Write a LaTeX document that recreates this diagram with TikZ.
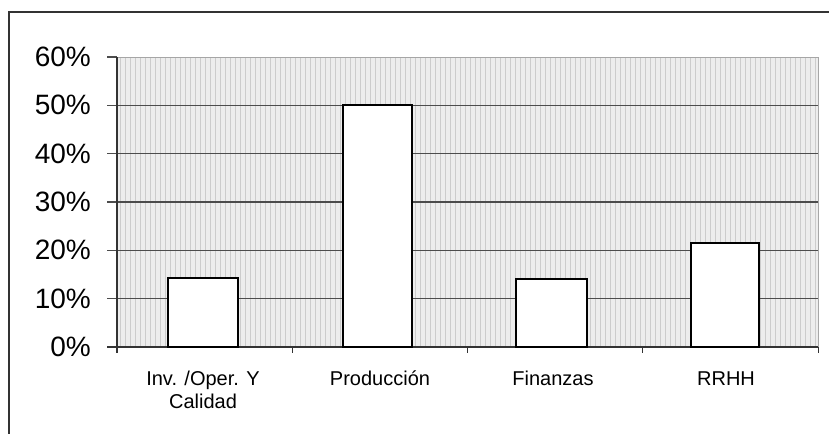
\documentclass[tikz,border=0pt]{standalone}
\usepackage{fontspec}
\setmainfont{Liberation Sans}
\usetikzlibrary{patterns.meta}
\begin{document}
\begin{tikzpicture}[x=1pt, y=-1pt,
    gridline/.style={draw=black!70, line width=1.2pt},
    barbox/.style={draw=black, fill=white, line width=2pt},
    ylab/.style={anchor=east, inner sep=0pt, font=\fontsize{28}{30}\selectfont},
    xlab/.style={anchor=base, inner sep=0pt, align=center, font=\fontsize{20}{23}\selectfont}]
            \useasboundingbox (0,0) rectangle (829,434);
            % frame
            \draw[black!80, line width=1.5pt] (829,12) -- (9,12) -- (9,434);
            % plot area
            \fill[black!7] (117,57) rectangle (818,347);
            \fill[pattern={Lines[angle=90, distance=5pt, line width=0.6pt]}, pattern color=black!20] (117,57) rectangle (818,347);
            \draw[black!35, line width=0.6pt] (117,57) -- (818,57) -- (818,347);
            \draw[gridline] (107,105.3) -- (818,105.3);
            \draw[gridline] (107,153.7) -- (818,153.7);
            \draw[gridline] (107,202) -- (818,202);
            \draw[gridline] (107,250.3) -- (818,250.3);
            \draw[gridline] (107,298.7) -- (818,298.7);
            \draw[gridline] (107,57) -- (117,57);
            % axes
            \draw[black!80, line width=1.2pt] (117,57) -- (117,353);
            \draw[black!80, line width=1.2pt] (107,347) -- (818,347);
            \draw[black!80, line width=1pt] (292,347) -- (292,353);
            \draw[black!80, line width=1pt] (467,347) -- (467,353);
            \draw[black!80, line width=1pt] (642,347) -- (642,353);
            \draw[black!80, line width=1pt] (818,347) -- (818,353);
            % bars
            \draw[barbox] (168,347) rectangle (238,278.3);
            \draw[barbox] (343,347) rectangle (412,105.3);
            \draw[barbox] (516,347) rectangle (587,279);
            \draw[barbox] (691,347) rectangle (759,243.1);
            % labels
            \node[ylab] (p60) at (91,57) {60\%};
            \node[ylab] (p50) at (91,105.3) {50\%};
            \node[ylab] (p40) at (91,153.7) {40\%};
            \node[ylab] (p30) at (91,202) {30\%};
            \node[ylab] (p20) at (91,250.3) {20\%};
            \node[ylab] (p10) at (91,298.7) {10\%};
            \node[ylab] (p0) at (91,347) {0\%};
            \node[xlab] (inv) at (203,408) {Inv. /Oper. Y\\Calidad};
            \node[xlab] (prod) at (380,385) {Producción};
            \node[xlab] (fin) at (553,385) {Finanzas};
            \node[xlab] (rrhh) at (726,385) {RRHH};
        \end{tikzpicture}
\end{document}
